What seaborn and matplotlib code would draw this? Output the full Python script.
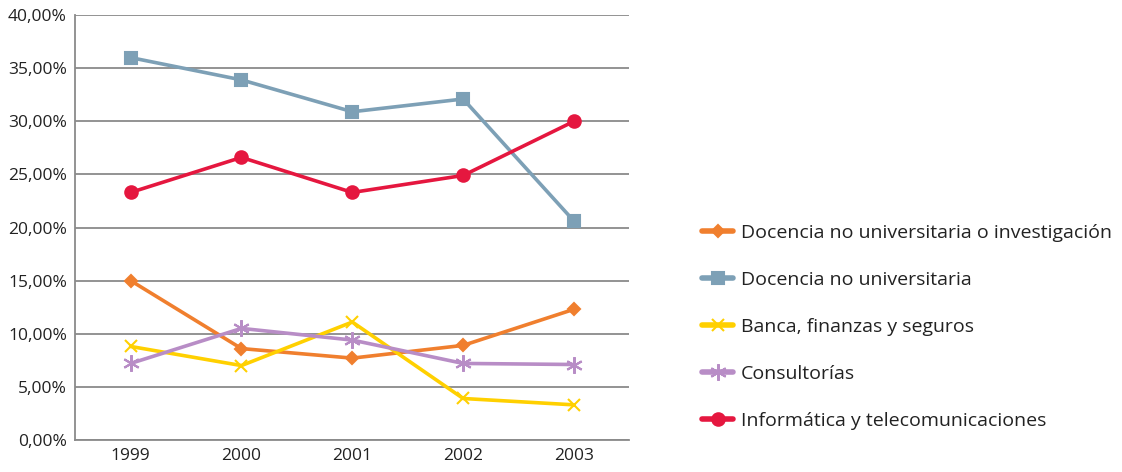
import pandas as pd
import matplotlib.pyplot as plt
import seaborn as sns
from matplotlib.ticker import FuncFormatter

# Values (percent)
years = ["1999", "2000", "2001", "2002", "2003"]
docencia_invest = [15.0, 8.6, 7.7, 8.9, 12.3]
docencia = [36.0, 33.9, 30.9, 32.1, 20.6]
banca = [8.8, 7.0, 11.1, 3.9, 3.3]
consultorias = [7.2, 10.5, 9.4, 7.2, 7.1]
informatica = [23.3, 26.6, 23.3, 24.9, 30.0]

series = [
    ("Docencia no universitaria o investigación", docencia_invest, "#F07F2E", "D", 6),
    ("Docencia no universitaria", docencia, "#7DA0B6", "s", 8),
    ("Banca, finanzas y seguros", banca, "#FFD000", "x", 9),
    ("Consultorías", consultorias, "#B88DC6", (6, 2, 0), 12),
    ("Informática y telecomunicaciones", informatica, "#E5173F", "o", 9),
]

sns.set_style("white")
plt.rcParams['font.family'] = ['Open Sans', 'DejaVu Sans']

fig = plt.figure(figsize=(11.22, 4.72), dpi=100)
ax = fig.add_axes([0.067, 0.068, 0.494, 0.9])

for name, vals, color, marker, ms in series:
    df = pd.DataFrame({"year": years, "value": vals})
    sns.lineplot(data=df, x="year", y="value", ax=ax, color=color,
                 marker=marker, markersize=ms, linewidth=2.6,
                 markeredgecolor=color, markeredgewidth=1.5, label=name)

ax.set_ylim(0, 40)
ax.set_xlim(-0.5, 4.5)
ax.set_yticks(range(0, 41, 5))
ax.yaxis.set_major_formatter(FuncFormatter(lambda v, p: f"{v:.2f}".replace(".", ",") + "%"))
ax.grid(axis="y", color="#8a8a8a", linewidth=1.3)
ax.set_axisbelow(True)
ax.set_xlabel("")
ax.set_ylabel("")
for s in ["top", "right"]:
    ax.spines[s].set_visible(False)
for s in ["left", "bottom"]:
    ax.spines[s].set_color("#8a8a8a")
    ax.spines[s].set_linewidth(1.3)
ax.tick_params(axis="both", length=0, labelsize=12.5, colors="#222222", pad=6)

handles, labels = ax.get_legend_handles_labels()
ax.get_legend().remove()
leg = fig.legend(handles, labels, loc="upper left", bbox_to_anchor=(0.617, 0.547),
                 frameon=False, fontsize=14, labelspacing=1.5, handlelength=1.6,
                 handletextpad=0.4, borderpad=0, labelcolor="#222222")
for h in leg.get_lines():
    h.set_linewidth(4)

fig.savefig("out.png", dpi=100)
